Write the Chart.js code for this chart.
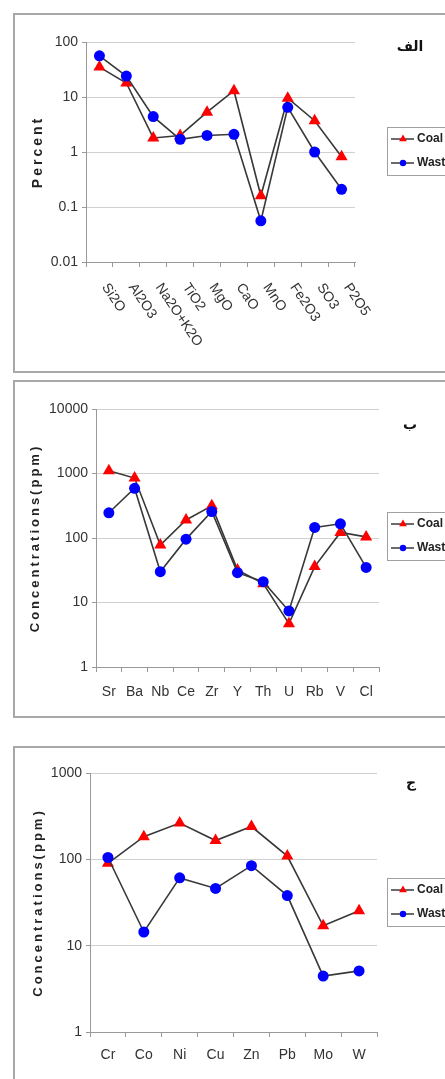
<!DOCTYPE html>
<html>
<head>
<meta charset="utf-8">
<script src="https://cdn.jsdelivr.net/npm/chart.js@4.4.1/dist/chart.umd.min.js"></script>
<style>
  body { margin: 0; background: #fff; width: 445px; height: 1079px; overflow: hidden; position: relative; }
  .panel { position: absolute; left: 13px; width: 470px; border: 2px solid #a8a8a8; box-sizing: border-box; }
  canvas { position: absolute; left: 0; }
  .tag { position: absolute; font: bold 14px "DejaVu Sans", sans-serif; color: #111; transform: translate(-50%, -50%); }
</style>
</head>
<body>
<div class="panel" style="top:13px;height:360px"></div>
<div class="panel" style="top:380px;height:338px"></div>
<div class="panel" style="top:746px;height:360px"></div>

<canvas id="c1" width="445" height="376" style="top:0"></canvas>
<canvas id="c2" width="445" height="360" style="top:376px"></canvas>
<canvas id="c3" width="445" height="343" style="top:736px"></canvas>

<div class="tag" style="left:410px;top:46px">الف</div>
<div class="tag" style="left:410px;top:424px">ب</div>
<div class="tag" style="left:411px;top:782px">ج</div>

<script>
// major oxides, percent
const oxides = ['Si2O', 'Al2O3', 'Na2O+K2O', 'TiO2', 'MgO', 'CaO', 'MnO', 'Fe2O3', 'SO3', 'P2O5'];
const oxideCoal = [35, 18, 1.8, 2.0, 5.3, 13, 0.16, 9.5, 3.7, 0.82];
const oxideWaste = [56, 24, 4.4, 1.7, 2.0, 2.1, 0.056, 6.5, 1.0, 0.21];
const percentTicks = [0.01, 0.1, 1, 10, 100];

// trace elements, ppm (panel b)
const traceA = ['Sr', 'Ba', 'Nb', 'Ce', 'Zr', 'Y', 'Th', 'U', 'Rb', 'V', 'Cl'];
const traceACoal = [1100, 850, 78, 190, 315, 32, 19.6, 4.7, 36, 122, 104];
const traceAWaste = [246, 590, 30, 96, 257, 29, 21, 7.4, 146, 166, 35];
const ppmTicksA = [1, 10, 100, 1000, 10000];

// heavy metals, ppm (panel c)
const traceB = ['Cr', 'Co', 'Ni', 'Cu', 'Zn', 'Pb', 'Mo', 'W'];
const traceBCoal = [90, 183, 263, 165, 240, 109, 17, 25.4];
const traceBWaste = [105, 14.4, 61, 46, 84.5, 38, 4.45, 5.1];
const ppmTicksB = [1, 10, 100, 1000];

const seriesNames = ['Coal', 'Waste'];
const FONT = '"Liberation Sans", Arial, sans-serif';

function extras(p) {
  return {
    id: 'extras',
    afterDraw(chart) {
      const ctx = chart.ctx;
      const area = chart.chartArea;
      const xs = chart.scales.x;

      // y axis title, spaced out letters
      ctx.save();
      ctx.font = 'bold ' + p.titleSize + 'px ' + FONT;
      ctx.letterSpacing = '3px';
      ctx.fillStyle = '#222';
      ctx.translate(p.titleX, (area.top + area.bottom) / 2);
      ctx.rotate(-Math.PI / 2);
      ctx.textAlign = 'center';
      ctx.textBaseline = 'middle';
      ctx.fillText(p.yTitle, 0, 0);
      ctx.restore();

      // slanted category labels (top-left to bottom-right)
      if (p.slanted) {
        ctx.save();
        ctx.font = '14px ' + FONT;
        ctx.fillStyle = '#333';
        ctx.textAlign = 'left';
        ctx.textBaseline = 'top';
        p.labels.forEach((lab, i) => {
          ctx.save();
          ctx.translate(xs.getPixelForValue(i) + 11, area.bottom + 19);
          ctx.rotate(56 * Math.PI / 180);
          ctx.fillText(lab, 0, 0);
          ctx.restore();
        });
        ctx.restore();
      }

      // legend box
      ctx.save();
      ctx.strokeStyle = '#a0a0a0';
      ctx.lineWidth = 1;
      ctx.strokeRect(387.5, p.legendTop + 0.5, 80, 48);
      ctx.font = 'bold 12px ' + FONT;
      ctx.textBaseline = 'middle';
      chart.data.datasets.forEach((ds, i) => {
        const y = p.legendTop + 12 + i * 24;
        ctx.strokeStyle = '#3a3a3a';
        ctx.lineWidth = 1.5;
        ctx.beginPath();
        ctx.moveTo(391, y);
        ctx.lineTo(414, y);
        ctx.stroke();
        ctx.fillStyle = ds.pointBackgroundColor;
        ctx.strokeStyle = ds.pointBackgroundColor;
        Chart.helpers.drawPoint(ctx, {pointStyle: ds.pointStyle, radius: i === 0 ? 4.5 : 3.2, rotation: 0, borderWidth: 0}, 403, y);
        ctx.fillStyle = '#222';
        ctx.fillText(ds.label, 417, y);
      });
      ctx.restore();
    }
  };
}

function panel(p) {
  const el = document.getElementById(p.id);
  const W = el.width, H = el.height;
  return new Chart(el, {
    type: 'line',
    data: {
      labels: p.labels,
      datasets: [
        {
          label: seriesNames[0], data: p.coal, order: 2,
          borderColor: '#383838', borderWidth: 1.6, tension: 0,
          pointStyle: 'triangle', pointRadius: 7, pointBorderWidth: 0,
          pointBackgroundColor: '#ff0000', pointBorderColor: '#ff0000'
        },
        {
          label: seriesNames[1], data: p.waste, order: 1,
          borderColor: '#383838', borderWidth: 1.6, tension: 0,
          pointStyle: 'circle', pointRadius: 5.5, pointBorderWidth: 0,
          pointBackgroundColor: '#0000ff', pointBorderColor: '#0000ff'
        }
      ]
    },
    options: {
      responsive: false,
      animation: false,
      events: [],
      layout: { padding: { left: 0, top: p.area.top, right: W - p.area.right, bottom: 0 } },
      plugins: { legend: { display: false }, tooltip: { enabled: false } },
      scales: {
        x: {
          type: 'category',
          offset: true,
          grid: { display: true, offset: true, drawOnChartArea: false, tickLength: 5, color: '#999' },
          border: { color: '#999', width: 1 },
          ticks: { display: !p.slanted, color: '#333', font: { size: 14, family: FONT }, padding: p.xPad, maxRotation: 0, autoSkip: false },
          afterFit(s) { s.height = H - p.area.bottom; }
        },
        y: {
          type: 'logarithmic',
          min: p.ticks[0],
          max: p.ticks[p.ticks.length - 1],
          afterBuildTicks(s) { s.ticks = p.ticks.map(v => ({ value: v })); },
          grid: { color: '#d0d0d0', tickColor: '#999', tickLength: 4 },
          border: { color: '#999', width: 1 },
          ticks: { color: '#333', font: { size: 14, family: FONT }, padding: 4, callback: v => String(v) },
          afterFit(s) { s.width = p.area.left; }
        }
      }
    },
    plugins: [extras(p)]
  });
}

panel({
  id: 'c1', labels: oxides, coal: oxideCoal, waste: oxideWaste, ticks: percentTicks,
  area: { left: 86, right: 355, top: 42, bottom: 262 },
  slanted: true, xPad: 8, yTitle: 'Percent', titleSize: 14, titleX: 38, legendTop: 127
});

panel({
  id: 'c2', labels: traceA, coal: traceACoal, waste: traceAWaste, ticks: ppmTicksA,
  area: { left: 96, right: 379, top: 33, bottom: 291 },
  slanted: false, xPad: 12, yTitle: 'Concentrations(ppm)', titleSize: 13, titleX: 35, legendTop: 136
});

panel({
  id: 'c3', labels: traceB, coal: traceBCoal, waste: traceBWaste, ticks: ppmTicksB,
  area: { left: 90, right: 377, top: 37, bottom: 296 },
  slanted: false, xPad: 10, yTitle: 'Concentrations(ppm)', titleSize: 13, titleX: 38, legendTop: 142
});
</script>
</body>
</html>
